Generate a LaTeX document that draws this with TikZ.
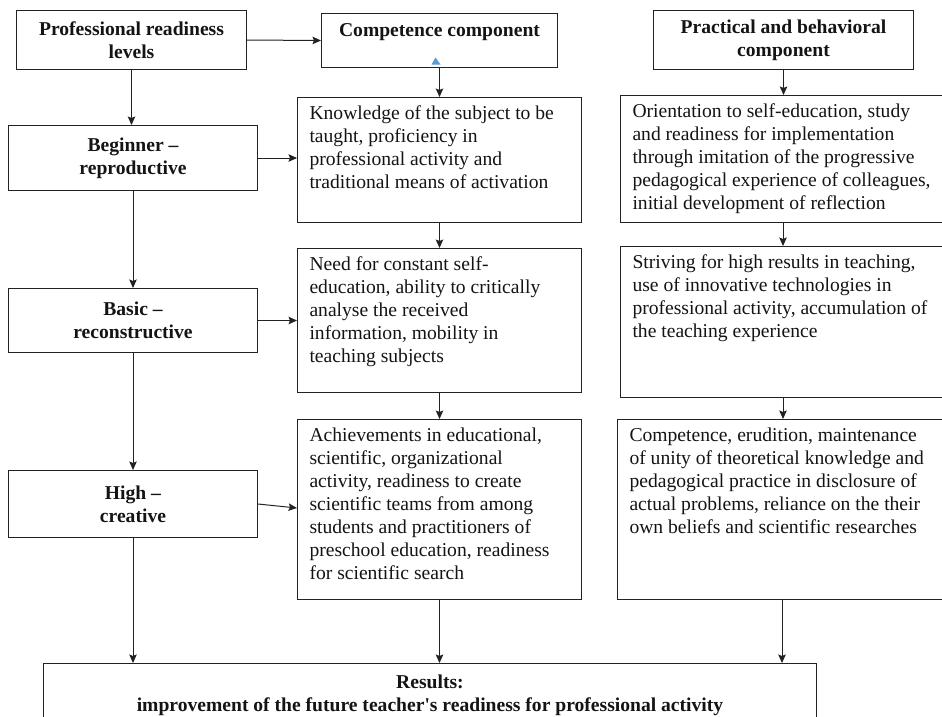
\documentclass[tikz,border=0pt]{standalone}
\usepackage{fontspec}
\setmainfont{Liberation Serif}
\usetikzlibrary{arrows.meta,calc}

\definecolor{linec}{RGB}{34,34,34}
\definecolor{textc}{RGB}{20,20,20}
\definecolor{markc}{RGB}{91,155,213}

\newcommand{\bodysize}{\fontsize{19.6pt}{23pt}\selectfont}
% top-aligned, ragged-right paragraph of fixed height and width
\newcommand{\toppar}[3]{\parbox[c][#1][t]{#2}{\raggedright\vspace*{5.5pt}\strut #3}}

\tikzset{
  box/.style={draw=linec, line width=1pt, inner sep=0pt, text=textc, font=\bodysize},
  head/.style={box, font=\bodysize\bfseries, align=center, anchor=north west},
  desc/.style={box, anchor=north west, inner xsep=12pt, inner ysep=0pt},
  arr/.style={draw=linec, line width=1pt, -{Stealth[length=8.5pt,width=7.5pt,inset=1.5pt]}}
}

\begin{document}
\begin{tikzpicture}[x=1pt, y=-1pt]
\path[use as bounding box, clip] (0,0) rectangle (942,716);
\fill[white] (0,0) rectangle (942,716);

% left column: readiness levels
\node[head, minimum width=230pt, minimum height=59pt] (prl) at (16,10)
  {Professional readiness\\levels};
\node[head, minimum width=249pt, minimum height=65pt] (beg) at (8,125)
  {Beginner --\\reproductive};
\node[head, minimum width=249pt, minimum height=64pt] (bas) at (8,288)
  {Basic --\\reconstructive};
\node[head, minimum width=249pt, minimum height=67pt] (high) at (8,470)
  {High --\\creative};

% middle column: competence component
\node[box, anchor=north west] (comp) at (321,13)
  {\parbox[c][54pt][t]{236pt}{\centering\bfseries\vspace*{6.6pt}\strut Competence component}};
\node[desc] (k1) at (297,97) {\toppar{125pt}{260pt}{Knowledge of the subject to be\\
  taught, proficiency in\\professional activity and\\traditional means of activation}};
\node[desc] (k2) at (297,248) {\toppar{144pt}{260pt}{Need for constant self-\\
  education, ability to critically\\analyse the received\\information, mobility in\\teaching subjects}};
\node[desc] (k3) at (297,419) {\toppar{180pt}{260pt}{Achievements in educational,\\
  scientific, organizational\\activity, readiness to create\\scientific teams from among\\
  students and practitioners of\\preschool education, readiness\\for scientific search}};

% right column: practical and behavioral component
\node[head, minimum width=260pt, minimum height=59pt] (pbc) at (653,10)
  {Practical and behavioral\\component};
\node[desc] (r1) at (620,95) {\toppar{127pt}{298pt}{Orientation to self-education, study\\
  and readiness for implementation\\through imitation of the progressive\\
  pedagogical experience of colleagues,\\initial development of reflection}};
\node[desc] (r2) at (620,246) {\toppar{151pt}{298pt}{Striving for high results in teaching,\\
  use of innovative technologies in\\professional activity, accumulation of\\the teaching experience}};
\node[desc] (r3) at (617,419) {\toppar{180pt}{301pt}{Competence, erudition, maintenance\\
  of unity of theoretical knowledge and\\pedagogical practice in disclosure of\\
  actual problems, reliance on the their\\own beliefs and scientific researches}};

% results
\node[box, anchor=north west] (res) at (43,663)
  {\parbox[c][80pt][t]{773pt}{\centering\bfseries\vspace*{9pt}\strut Results:\\
   improvement of the future teacher\textquotesingle s readiness for professional activity}};

% connectors
\draw[arr] (prl.east) -- (comp.west);
\draw[arr] (prl.south) -- (prl.south |- beg.north);
\draw[arr] (beg.south) -- (beg.south |- bas.north);
\draw[arr] (bas.south) -- (bas.south |- high.north);
\draw[arr] (high.south) -- (high.south |- res.north);

\draw[arr] (beg.east) -- (beg.east -| k1.west);
\draw[arr] (bas.east) -- (bas.east -| k2.west);
\draw[arr] (high.east) -- ([yshift=-89pt]k3.north west);

\draw[arr] (comp.south) -- (comp.south |- k1.north);
\draw[arr] (k1.south) -- (k1.south |- k2.north);
\draw[arr] (k2.south) -- (k2.south |- k3.north);
\draw[arr] (k3.south) -- (k3.south |- res.north);

\coordinate (rx) at (783,0);
\draw[arr] (pbc.south) -- (pbc.south |- r1.north);
\draw[arr] (rx |- r1.south) -- (rx |- r2.north);
\draw[arr] (rx |- r2.south) -- (rx |- r3.north);
\draw[arr] ([xshift=-1pt]rx |- r3.south) -- ([xshift=-1pt]rx |- res.north);

% small mark at the top of the competence connector
\fill[markc] (431.5,64.5) -- (440.5,64.5) -- (435.5,57.5) -- cycle;
\end{tikzpicture}
\end{document}
